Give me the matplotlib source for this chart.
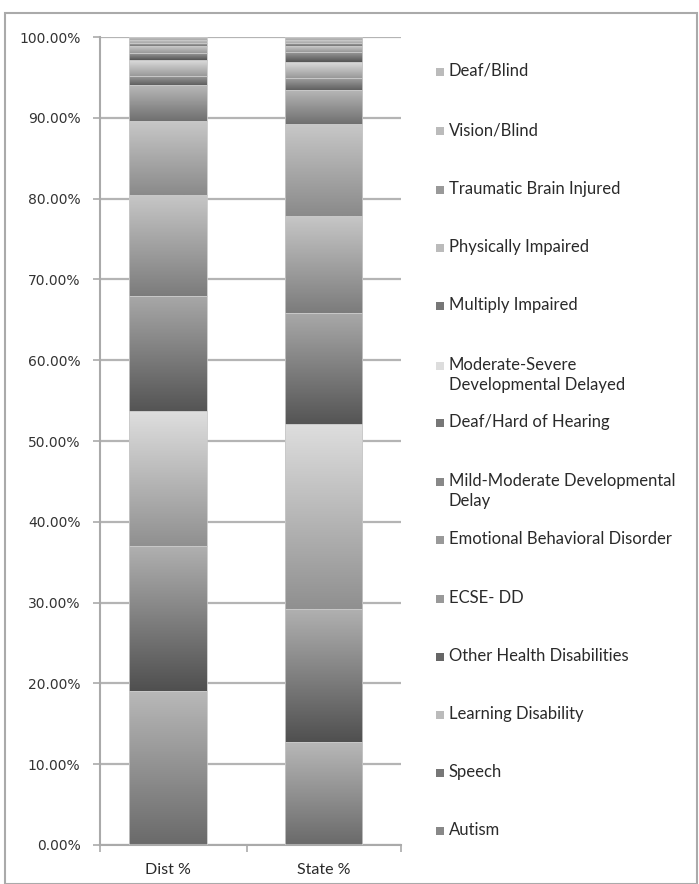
import numpy as np
import matplotlib
matplotlib.use("Agg")
import matplotlib.pyplot as plt
from matplotlib.colors import to_rgb
from matplotlib.patches import Rectangle

# Stacked shares per disability category (percent), bottom to top
categories = [
    "Autism", "Speech", "Learning Disability", "Other Health Disabilities",
    "ECSE- DD", "Emotional Behavioral Disorder",
    "Mild-Moderate Developmental\nDelay", "Deaf/Hard of Hearing",
    "Moderate-Severe\nDevelopmental Delayed", "Multiply Impaired",
    "Physically Impaired", "Traumatic Brain Injured", "Vision/Blind", "Deaf/Blind",
]
groups = ["Dist %", "State %"]
dist_pct = [19.0, 18.0, 16.7, 14.3, 12.4, 9.2, 4.4, 1.2, 2.0, 0.8, 0.9, 0.3, 0.4, 0.4]
state_pct = [12.8, 16.4, 22.9, 13.7, 12.0, 11.4, 4.3, 1.4, 2.0, 1.2, 0.8, 0.4, 0.3, 0.4]

# gradient fill per series: (top colour, bottom colour)
shades = [
    ("#b8b8b8", "#6a6a6a"), ("#b0b0b0", "#505050"), ("#dedede", "#909090"),
    ("#a8a8a8", "#555555"), ("#c6c6c6", "#7c7c7c"), ("#c8c8c8", "#8a8a8a"),
    ("#b8b8b8", "#707070"), ("#a0a0a0", "#606060"), ("#e0e0e0", "#999999"),
    ("#999999", "#555555"), ("#d0d0d0", "#999999"), ("#b0b0b0", "#777777"),
    ("#cccccc", "#aaaaaa"), ("#cccccc", "#aaaaaa"),
]
swatch = ["#888888", "#777777", "#bbbbbb", "#666666", "#999999", "#999999",
          "#888888", "#777777", "#dddddd", "#777777", "#bbbbbb", "#999999",
          "#bbbbbb", "#bbbbbb"]

W, H = 699, 884
fig = plt.figure(figsize=(W / 100, H / 100), dpi=100)
fig.patch.set_facecolor("white")

# outer chart frame
fig.add_artist(Rectangle((5 / W, 0), 692 / W, (H - 13) / H, transform=fig.transFigure,
                         fill=False, edgecolor="#aaaaaa", linewidth=1.5))

ax = fig.add_axes([100 / W, (H - 845) / H, 301 / W, 808 / H])

bar_w = 0.5
for gi, vals in enumerate([dist_pct, state_pct]):
    bottom = 0.0
    for si, v in enumerate(vals):
        top_c, bot_c = np.array(to_rgb(shades[si][0])), np.array(to_rgb(shades[si][1]))
        t = np.linspace(0, 1, 64)[:, None]
        grad = (top_c * (1 - t) + bot_c * t)[:, None, :]
        # row 0 (top colour) sits at the top of the segment
        ax.imshow(grad, extent=[gi - bar_w / 2, gi + bar_w / 2, bottom, bottom + v],
                  aspect="auto", interpolation="bilinear", zorder=2, origin="upper")
        ax.add_patch(Rectangle((gi - bar_w / 2, bottom), bar_w, v, fill=False,
                               edgecolor="#c8c8c8", linewidth=0.6, zorder=3))
        bottom += v

ax.set_xlim(-0.44, 1.50)
ax.set_ylim(0, 100)

ax.set_yticks(np.arange(0, 101, 10))
ax.set_yticklabels([f"{v:.2f}%" for v in range(0, 101, 10)], fontsize=10, color="#333333")
ax.yaxis.grid(True, color="#b4b4b4", linewidth=1.6, zorder=0)
ax.set_axisbelow(True)

ax.set_xticks([0, 1])
ax.set_xticklabels(groups, fontsize=11.5, family="Lato", color="#2a2a2a")
ax.set_xticks([-0.44, 0.51, 1.50], minor=True)
ax.tick_params(axis="x", which="major", length=0, pad=13)
ax.tick_params(axis="x", which="minor", length=5, color="#aaaaaa", width=1.2)
ax.tick_params(axis="y", length=5, color="#aaaaaa", width=1.2, pad=9)

for side in ["top", "right"]:
    ax.spines[side].set_visible(False)
for side in ["left", "bottom"]:
    ax.spines[side].set_color("#aaaaaa")
    ax.spines[side].set_linewidth(1.5)

# legend, listed top-down in reverse stacking order
legend_y = [832, 774, 716, 658, 600, 541, 483, 424, 367, 307, 249, 191, 132, 73]
for name, col, y in zip(categories, swatch, legend_y):
    fig.add_artist(Rectangle((436 / W, (H - y - 3) / H), 8 / W, 8 / H,
                             transform=fig.transFigure, facecolor=col, edgecolor="none"))
    fig.text(449 / W, (H - y + 10) / H, name, fontsize=12, family="Lato",
             color="#2a2a2a", va="top", ha="left", linespacing=1.32)

fig.savefig("out.png", dpi=100)
